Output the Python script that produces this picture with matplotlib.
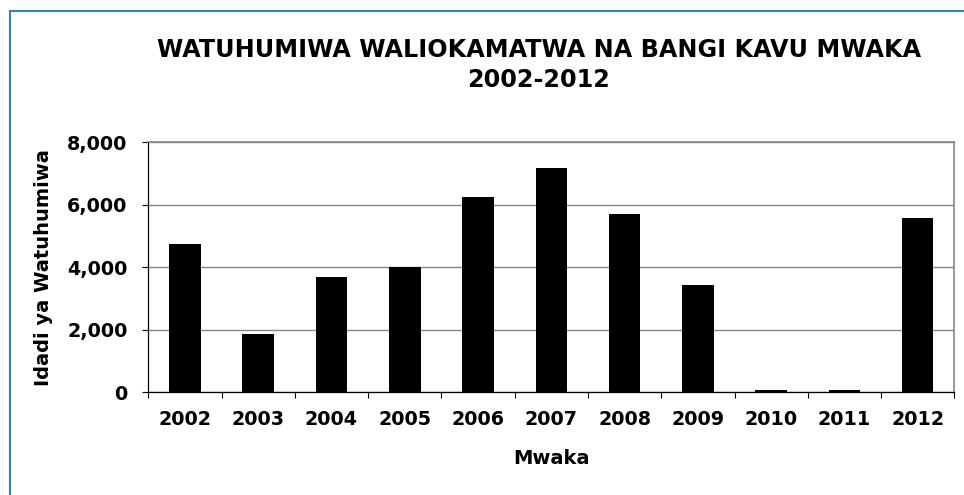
import numpy as np
import matplotlib
matplotlib.use('Agg')
import matplotlib.pyplot as plt
from matplotlib.ticker import FuncFormatter, FixedLocator
from matplotlib.patches import Rectangle

# data
years = ['2002', '2003', '2004', '2005', '2006', '2007', '2008', '2009', '2010', '2011', '2012']
watuhumiwa = [4745, 1855, 3690, 4000, 6250, 7190, 5695, 3425, 60, 80, 5580]

title = 'WATUHUMIWA WALIOKAMATWA NA BANGI KAVU MWAKA\n2002-2012'
xlabel = 'Mwaka'
ylabel = 'Idadi ya Watuhumiwa'

plt.rcParams['font.family'] = ['DejaVu Sans']
plt.rcParams['font.weight'] = 'bold'

fig = plt.figure(figsize=(9.64, 4.95), dpi=100)
ax = fig.add_axes([0.1538, 0.2075, 0.8362, 0.505])

x = np.arange(len(years))
ax.bar(x, watuhumiwa, width=0.43, color='black', zorder=3)

ax.set_xlim(-0.5, len(years) - 0.5)
ax.set_ylim(0, 8000)
ax.set_yticks([0, 2000, 4000, 6000, 8000])
ax.yaxis.set_major_formatter(FuncFormatter(lambda v, p: '{:,.0f}'.format(v)))
ax.yaxis.grid(True, color='#868686', linewidth=1.0, zorder=0)

ax.set_xticks(x)
ax.set_xticklabels(years)
ax.xaxis.set_minor_locator(FixedLocator(np.arange(-0.5, len(years), 1.0)))
ax.tick_params(axis='x', which='major', length=0, pad=13, labelsize=13.8)
ax.tick_params(axis='x', which='minor', length=4, width=0.8, direction='out')
ax.tick_params(axis='y', length=4, width=0.8, direction='out', pad=11, labelsize=13.8)

for side in ['top', 'right']:
    ax.spines[side].set_color('#868686')
    ax.spines[side].set_linewidth(1.2)
for side in ['left', 'bottom']:
    ax.spines[side].set_color('black')
    ax.spines[side].set_linewidth(0.9)

ax.set_xlabel(xlabel, fontsize=14, fontweight='bold', labelpad=14)
ax.set_ylabel(ylabel, fontsize=14, fontweight='bold', labelpad=10)

fig.text(0.559, 0.869, title, ha='center', va='center', fontsize=17.2,
         fontweight='bold', linespacing=1.3)

# outer chart border (only top and left show in the crop)
fig.patches.append(Rectangle((10 / 964, -0.1), 1.2, 1 - 11 / 495 + 0.1,
                             transform=fig.transFigure, fill=False,
                             edgecolor='#2f8aa6', linewidth=1.5))

fig.savefig('out.png', dpi=100)
